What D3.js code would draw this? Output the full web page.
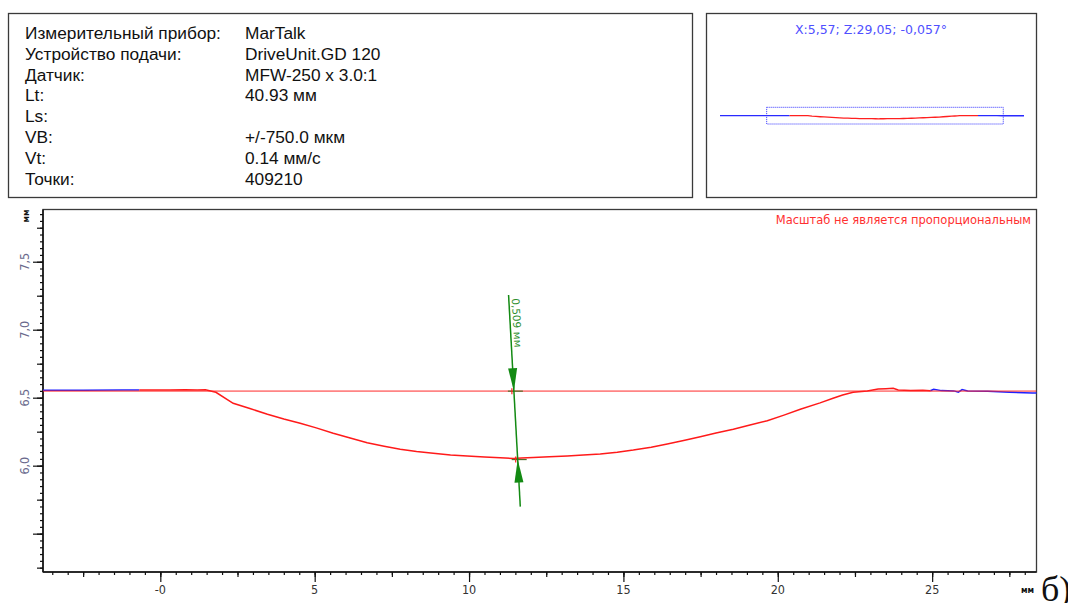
<!DOCTYPE html>
<html><head><meta charset="utf-8">
<script src="https://cdn.jsdelivr.net/npm/d3@7"></script>
<style>body{margin:0;background:#fff;overflow:hidden} svg{display:block}</style>
</head><body>
<svg id="c" width="1068" height="603"></svg>
<script>
// ---------- DATA ----------
const infoLabels = ["Измерительный прибор:", "Устройство подачи:", "Датчик:", "Lt:", "Ls:", "VB:", "Vt:", "Точки:"];
const infoValues = ["MarTalk", "DriveUnit.GD 120", "MFW-250 x 3.0:1", "40.93 мм", "", "+/-750.0 мкм", "0.14 мм/с", "409210"];
const miniTitle = "X:5,57; Z:29,05; -0,057°";
const scaleNote = "Масштаб не является пропорциональным";

// profile (x in mm, z in mm)
const blueLeftX = [-10.15, -7.5, -5.0, -3.8, -2.5, -1.2, -0.68];
const blueLeftZ = [6.553, 6.553, 6.554, 6.554, 6.555, 6.556, 6.556];
const redX = [-0.68, -0.2, 0.3, 0.8, 1.2, 1.46, 1.8, 2.36, 2.9, 3.47, 4.0, 4.53, 5.05, 5.6, 6.15, 6.7, 7.25, 7.77, 8.3, 8.84, 9.4, 9.94, 10.5, 11.01, 11.43, 11.7, 12.08, 12.6, 13.18, 13.7, 14.25, 14.8, 15.32, 15.9, 16.42, 16.95, 17.49, 18.0, 18.56, 19.1, 19.66, 20.2, 20.73, 21.37, 21.79, 22.1, 22.44, 22.9, 23.25, 23.5, 23.74, 23.9, 24.3, 24.7, 24.94];
const redZ = [6.556, 6.557, 6.556, 6.558, 6.557, 6.558, 6.54, 6.459, 6.42, 6.378, 6.343, 6.312, 6.278, 6.238, 6.204, 6.169, 6.143, 6.121, 6.104, 6.091, 6.079, 6.071, 6.064, 6.059, 6.052, 6.056, 6.06, 6.066, 6.071, 6.078, 6.086, 6.099, 6.115, 6.136, 6.16, 6.185, 6.213, 6.24, 6.268, 6.299, 6.331, 6.372, 6.415, 6.462, 6.496, 6.52, 6.54, 6.55, 6.564, 6.566, 6.569, 6.556, 6.553, 6.554, 6.551];
const blueRightX = [24.94, 25.05, 25.3, 25.7, 25.85, 25.97, 26.15, 26.8, 27.5, 28.24, 31.2];
const blueRightZ = [6.551, 6.562, 6.552, 6.55, 6.541, 6.56, 6.549, 6.547, 6.54, 6.535, 6.533];
const refZ = 6.548;

// measurement
const measureX = [11.28, 11.66];
const measureZ = [7.255, 5.699];
const arrowTipZ = [6.548, 6.045];
const measureLabel = "0,509 мм";

// axes
const xDomain = [-3.80, 28.38];
const yDomain = [5.218, 7.884];
const xTickValues = [0, 5, 10, 15, 20, 25];
const xTickLabels = ["-0", "5", "10", "15", "20", "25"];
const yTickValues = [6.0, 6.5, 7.0, 7.5];
const yTickLabels = ["6,0", "6,5", "7,0", "7,5"];
const miniXDomain = [-10.15, 31.2];

// ---------- DRAW ----------
const svg = d3.select("#c");
const boxStroke = "#3a3a3a";

// info box
svg.append("rect").attr("x", 8.5).attr("y", 13.5).attr("width", 684).attr("height", 184)
  .attr("fill", "none").attr("stroke", boxStroke).attr("stroke-width", 1.3);
const info = svg.append("g").attr("font-family", "'Liberation Sans', Arial, sans-serif")
  .attr("font-size", "17.3px").attr("fill", "#111");
infoLabels.forEach((t, i) => {
  const yy = 39 + i * 20.8;
  info.append("text").attr("x", 25).attr("y", yy).text(t);
  info.append("text").attr("x", 245).attr("y", yy).text(infoValues[i]);
});

// mini box
svg.append("rect").attr("x", 706.5).attr("y", 13.5).attr("width", 330).attr("height", 184)
  .attr("fill", "none").attr("stroke", boxStroke).attr("stroke-width", 1.3);
svg.append("text").attr("x", 871).attr("y", 34).attr("text-anchor", "middle")
  .attr("font-family", "'DejaVu Sans', Verdana, sans-serif").attr("font-size", "12.5px")
  .attr("fill", "#5050ff").text(miniTitle);
const mx = d3.scaleLinear().domain(miniXDomain).range([720, 1024]);
const my = d3.scaleLinear().domain(yDomain).range([124, 107.3]);
const mline = d3.line().x(d => mx(d[0])).y(d => my(d[1]));
const zip = (a, b) => a.map((v, i) => [v, b[i]]);
const blueL = zip(blueLeftX, blueLeftZ), red = zip(redX, redZ), blueR = zip(blueRightX, blueRightZ);
svg.append("path").attr("d", mline(blueL)).attr("fill", "none").attr("stroke", "#2a2aff").attr("stroke-width", 1.3);
svg.append("path").attr("d", mline(blueR)).attr("fill", "none").attr("stroke", "#2a2aff").attr("stroke-width", 1.3);
svg.append("path").attr("d", mline(red)).attr("fill", "none").attr("stroke", "#ff2020").attr("stroke-width", 1.3);
svg.append("rect").attr("x", mx(xDomain[0])).attr("y", my(yDomain[1]))
  .attr("width", mx(xDomain[1]) - mx(xDomain[0])).attr("height", my(yDomain[0]) - my(yDomain[1]))
  .attr("fill", "none").attr("stroke", "#3030ff").attr("stroke-width", 1).attr("stroke-dasharray", "1,1");

// main plot
const L = 43, R = 1036.5, T = 209.5, B = 572;
const x = d3.scaleLinear().domain(xDomain).range([L, R]);
const y = d3.scaleLinear().domain(yDomain).range([B, T]);

svg.append("defs").append("clipPath").attr("id", "clip")
  .append("rect").attr("x", L).attr("y", T).attr("width", R - L).attr("height", B - T);

// frame
svg.append("rect").attr("x", L).attr("y", T).attr("width", R - L).attr("height", B - T)
  .attr("fill", "none").attr("stroke", boxStroke).attr("stroke-width", 1.3);

// note
svg.append("text").attr("x", 1031).attr("y", 224).attr("text-anchor", "end")
  .attr("font-family", "'DejaVu Sans', Verdana, sans-serif").attr("font-size", "11.5px")
  .attr("fill", "#ff3030").text(scaleNote);

// y axis ticks
const yMinor = d3.range(105, 158).map(i => +(i * 0.05).toFixed(2));
const yMed = d3.range(21, 32).map(i => +(i * 0.25).toFixed(2));
const yMajor = [5.5, 6.0, 6.5, 7.0, 7.5];
function yAxisLayer(vals, size) {
  const g = svg.append("g").attr("transform", `translate(${L},0)`)
    .call(d3.axisLeft(y).tickValues(vals).tickSize(size).tickFormat(""));
  g.select(".domain").remove();
  g.selectAll("line").attr("stroke", "#111").attr("stroke-width", 1.2);
  return g;
}
yAxisLayer(yMinor, 3);
yAxisLayer(yMed, 6);
yAxisLayer(yMajor, 10);
svg.append("g").selectAll("text").data(yTickValues).join("text")
  .attr("transform", (d) => `translate(29,${y(d)}) rotate(-90)`)
  .attr("text-anchor", "middle")
  .attr("font-family", "'DejaVu Sans Condensed', 'DejaVu Sans', sans-serif").attr("font-size", "12.5px")
  .attr("fill", "#6a6a8c").text((d, i) => yTickLabels[i]);
svg.append("text").attr("transform", "translate(29,216) rotate(-90)").attr("text-anchor", "middle")
  .attr("font-family", "'DejaVu Sans', sans-serif").attr("font-size", "8px").attr("font-weight", "bold")
  .attr("fill", "#111").text("мм");

// x axis ticks
const xMinor = d3.range(-7, 57).map(i => i * 0.5);
const xMed = d3.range(-1, 12).map(i => i * 2.5);
function xAxisLayer(vals, size) {
  const g = svg.append("g").attr("transform", `translate(0,${B})`)
    .call(d3.axisBottom(x).tickValues(vals).tickSize(size).tickFormat(""));
  g.select(".domain").remove();
  g.selectAll("line").attr("stroke", "#111").attr("stroke-width", 1.2);
  return g;
}
xAxisLayer(xMinor, 3);
xAxisLayer(xMed, 5);
xAxisLayer(xTickValues, 10);
svg.append("g").selectAll("text").data(xTickValues).join("text")
  .attr("x", d => x(d)).attr("y", 594).attr("text-anchor", "middle")
  .attr("font-family", "'DejaVu Sans Condensed', 'DejaVu Sans', sans-serif").attr("font-size", "12.5px")
  .attr("fill", "#333").text((d, i) => xTickLabels[i]);
svg.append("text").attr("x", 1021).attr("y", 593)
  .attr("font-family", "'DejaVu Sans', sans-serif").attr("font-size", "8px").attr("font-weight", "bold")
  .attr("fill", "#111").text("мм");

// axis lines (darker left & bottom)
svg.append("line").attr("x1", L).attr("x2", L).attr("y1", T).attr("y2", B).attr("stroke", "#111").attr("stroke-width", 1.5);
svg.append("line").attr("x1", L).attr("x2", R).attr("y1", B).attr("y2", B).attr("stroke", "#111").attr("stroke-width", 1.5);

// profile
const plot = svg.append("g").attr("clip-path", "url(#clip)");
const line = d3.line().x(d => x(d[0])).y(d => y(d[1]));
plot.append("path").attr("d", line(blueL)).attr("fill", "none").attr("stroke", "#2020ff").attr("stroke-width", 1.5);
plot.append("path").attr("d", line(blueR)).attr("fill", "none").attr("stroke", "#2020ff").attr("stroke-width", 1.5);
plot.append("path").attr("d", line(red)).attr("fill", "none").attr("stroke", "#ff1a1a").attr("stroke-width", 1.5);
plot.append("line").attr("x1", x(xDomain[0])).attr("x2", x(xDomain[1])).attr("y1", y(refZ)).attr("y2", y(refZ))
  .attr("stroke", "#ff2020").attr("stroke-opacity", 0.55).attr("stroke-width", 1.6);

// measurement
const p1 = [x(measureX[0]), y(measureZ[0])], p2 = [x(measureX[1]), y(measureZ[1])];
const dx = p2[0] - p1[0], dy = p2[1] - p1[1], len = Math.hypot(dx, dy);
const u = [dx / len, dy / len], n = [-u[1], u[0]];
const ptAt = z => { const t = (y(z) - p1[1]) / dy; return [p1[0] + t * dx, p1[1] + t * dy]; };
const tips = arrowTipZ.map(ptAt);
const green = "#138a13";
tips.forEach(t => {
  plot.append("line").attr("x1", t[0] - 6).attr("x2", t[0] + 9).attr("y1", t[1]).attr("y2", t[1])
    .attr("stroke", "#4f6f2a").attr("stroke-width", 1.2);
  plot.append("line").attr("x1", t[0] - 2).attr("x2", t[0] - 2).attr("y1", t[1] - 3).attr("y2", t[1] + 3)
    .attr("stroke", "#ff2020").attr("stroke-width", 1.2);
});
plot.append("line").attr("x1", p1[0]).attr("y1", p1[1]).attr("x2", p2[0]).attr("y2", p2[1])
  .attr("stroke", green).attr("stroke-width", 1.5);
const AL = 23, AW = 4.5;
[[tips[0], 1], [tips[1], -1]].forEach(([t, s]) => {
  const b = [t[0] - s * AL * u[0], t[1] - s * AL * u[1]];
  const pts = [t, [b[0] + AW * n[0], b[1] + AW * n[1]], [b[0] - AW * n[0], b[1] - AW * n[1]]];
  plot.append("polygon").attr("points", pts.map(p => p.join(",")).join(" ")).attr("fill", green);
});
const angle = Math.atan2(dy, dx) * 180 / Math.PI;
const lp = ptAt(7.23);
svg.append("text").attr("transform", `translate(${lp[0] + 3},${lp[1]}) rotate(${angle})`)
  .attr("font-family", "'DejaVu Sans', sans-serif").attr("font-size", "10.5px")
  .attr("fill", "#2f8f2f").text(measureLabel);

// figure label
svg.append("text").attr("x", 1041).attr("y", 601)
  .attr("font-family", "'Liberation Serif', 'Times New Roman', serif").attr("font-size", "36px")
  .attr("fill", "#111").text("б)");
</script>
</body></html>
